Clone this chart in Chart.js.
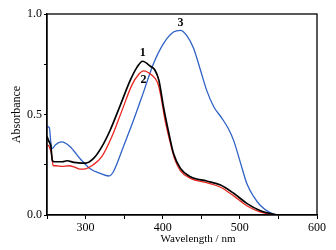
<!DOCTYPE html>
<html>
<head>
<meta charset="utf-8">
<script src="https://cdn.jsdelivr.net/npm/chart.js@4.4.1/dist/chart.umd.min.js"></script>
<style>
  html, body { margin: 0; padding: 0; background: #fff; }
  #wrap { width: 336px; height: 250px; position: relative; }
</style>
</head>
<body>
<div id="wrap"><canvas id="chart"></canvas></div>
<script>
// curve 1 (black)
const wl1 = [250, 252, 255, 257, 260, 270, 276, 285, 295, 300, 310, 321, 332, 345, 358, 367, 374, 384, 390, 395, 401, 408, 414, 423, 436, 457, 475, 492, 509, 526, 544, 550];
const abs1 = [0.39, 0.37, 0.34, 0.27, 0.265, 0.265, 0.27, 0.262, 0.258, 0.258, 0.28, 0.339, 0.423, 0.546, 0.671, 0.737, 0.765, 0.74, 0.72, 0.671, 0.538, 0.406, 0.306, 0.232, 0.19, 0.169, 0.149, 0.108, 0.058, 0.022, 0.003, 0];

// curve 2 (red)
const wl2 = [250, 253, 256, 258, 262, 270, 278, 285, 293, 300, 310, 321, 334, 347, 360, 369, 375, 386, 393, 397, 403, 410, 416, 423, 436, 457, 475, 492, 509, 526, 544, 550];
const abs2 = [0.35, 0.34, 0.30, 0.245, 0.245, 0.242, 0.245, 0.24, 0.228, 0.23, 0.25, 0.29, 0.389, 0.518, 0.646, 0.7, 0.717, 0.695, 0.662, 0.604, 0.472, 0.356, 0.273, 0.22, 0.182, 0.161, 0.138, 0.095, 0.046, 0.015, 0.001, 0];

// curve 3 (blue)
const wl3 = [250, 253, 255, 257, 261, 269, 280, 293, 306, 319, 330, 336, 349, 362, 375, 388, 401, 414, 423, 431, 440, 449, 457, 466, 477, 485, 492, 501, 509, 518, 526, 539, 548];
const abs3 = [0.44, 0.435, 0.36, 0.33, 0.35, 0.364, 0.34, 0.28, 0.23, 0.207, 0.194, 0.215, 0.34, 0.47, 0.61, 0.753, 0.853, 0.91, 0.919, 0.894, 0.83, 0.72, 0.62, 0.54, 0.48, 0.43, 0.37, 0.257, 0.157, 0.091, 0.05, 0.012, 0];

const xTicks = [300, 400, 500, 600];
const yTicks = [0, 0.5, 1.0];
const curveLabels = [
  { text: "1", x: 374, y: 0.805 },
  { text: "2", x: 375, y: 0.67 },
  { text: "3", x: 423, y: 0.955 },
];

const serif = "'Liberation Serif', 'DejaVu Serif', serif";

const toPoints = (xs, ys) => xs.map((x, i) => ({ x, y: ys[i] }));

const framePlugin = {
  id: "frame",
  afterDraw(chart) {
    const { ctx, chartArea: a, scales } = chart;
    ctx.save();
    ctx.strokeStyle = "#000";
    ctx.lineWidth = 1.3;
    ctx.strokeRect(a.left, a.top, a.right - a.left, a.bottom - a.top);

    ctx.fillStyle = "#000";
    ctx.font = "bold 12px " + serif;
    ctx.textAlign = "center";
    ctx.textBaseline = "middle";
    curveLabels.forEach((l) => {
      ctx.fillText(l.text, scales.x.getPixelForValue(l.x), scales.y.getPixelForValue(l.y));
    });

    ctx.font = "11px " + serif;
    ctx.fillText("Wavelength / nm", (a.left + a.right) / 2 + 16, 239);
    ctx.translate(17, (a.top + a.bottom) / 2);
    ctx.rotate(-Math.PI / 2);
    ctx.font = "12px " + serif;
    ctx.fillText("Absorbance", 0, 0);
    ctx.restore();
  },
};

new Chart(document.getElementById("chart"), {
  type: "line",
  data: {
    datasets: [
      { data: toPoints(wl1, abs1), borderColor: "#000000", borderWidth: 1.7 },
      { data: toPoints(wl2, abs2), borderColor: "#e8261e", borderWidth: 1.3 },
      { data: toPoints(wl3, abs3), borderColor: "#2f62c4", borderWidth: 1.3 },
    ],
  },
  options: {
    responsive: true,
    maintainAspectRatio: false,
    animation: false,
    layout: { padding: { top: 14, right: 19, left: 0, bottom: 0 } },
    elements: {
      point: { radius: 0 },
      line: { tension: 0.35, cubicInterpolationMode: "monotone", fill: false },
    },
    plugins: { legend: { display: false }, tooltip: { enabled: false } },
    scales: {
      x: {
        type: "linear",
        min: 250,
        max: 600,
        afterFit: (s) => { s.height = 35; },
        ticks: {
          stepSize: 50,
          autoSkip: false,
          maxRotation: 0,
          color: "#000",
          padding: 2,
          font: { family: serif, size: 12 },
          callback: (v) => (xTicks.includes(v) ? v : ""),
        },
        grid: { drawOnChartArea: false, tickLength: 4, color: "#000" },
        border: { color: "#000", width: 1.3 },
      },
      y: {
        min: 0,
        max: 1,
        afterFit: (s) => { s.width = 47; },
        ticks: {
          stepSize: 0.25,
          autoSkip: false,
          color: "#000",
          padding: 2,
          font: { family: serif, size: 12 },
          callback: (v) => (yTicks.includes(v) ? v.toFixed(1) : ""),
        },
        grid: { drawOnChartArea: false, tickLength: 3, color: "#000" },
        border: { color: "#000", width: 1.3 },
      },
    },
  },
  plugins: [framePlugin],
});
</script>
</body>
</html>
